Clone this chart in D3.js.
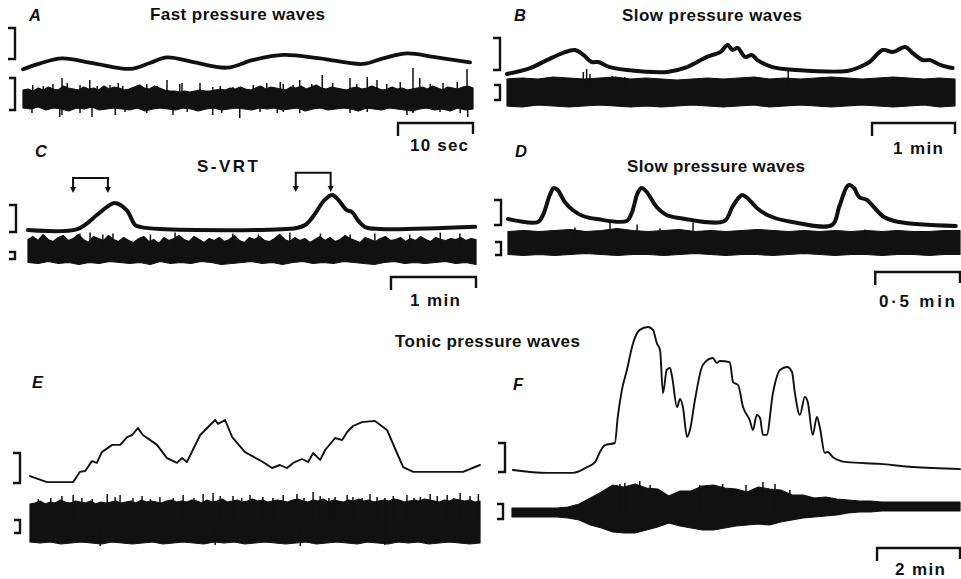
<!DOCTYPE html>
<html><head><meta charset="utf-8">
<script src="https://cdnjs.cloudflare.com/ajax/libs/d3/7.8.5/d3.min.js"></script>
<style>body{margin:0;background:#fff}svg{display:block}</style>
</head><body>
<svg id="fig" width="961" height="579"></svg>
<script>
// Pressure traces: time (s or min) and pressure in calibration units (bracket = 10).
// Nerve traces: envelope of the efferent discharge in µV, sampled evenly over the record,
// plus isolated large spikes as [time, amplitude].

// ---- A: fast pressure waves (time in s)
const aTime = [0, 2.3, 5.2, 9.3, 14.3, 16.9, 19.2, 22.7, 27.2, 30.7, 34.7, 39.6, 45.3, 48, 51.2, 54.7, 59.6];
const aPressure = [-3.3, -1.4, 0.2, -1.3, -3.2, -1.3, 0.5, -1.0, -2.8, -0.3, 1.3, 0.2, -1.6, 0.2, 1.8, 0.7, -1.1];
const aNerveUpper = [9,10,8,11,9,12,10,9,13,11,10,9,12,10,11,9,13,10,12,11,9,10,12,14,11,10,13,11,9,8,8,7,8,7,8,9,8,8,9,10,9,11,10,12,10,9,11,13,10,12,11,10,9,12,11,13,10,12,14,11,10,12,11,10,9,11,12,10,11,13,11,9,10,12,10,11,9,10,11,12,10,13,11,9,12,11,10,12,13,11];
const aNerveLower = [-9,-10,-8,-11,-9,-10,-12,-9,-10,-8,-11,-10,-9,-10,-11,-9,-12,-10,-9,-10,-11,-9,-10,-12,-10,-9,-11,-10,-9,-10,-11,-9,-10,-9,-11,-10,-9,-12,-10,-9,-11,-10,-9,-10,-12,-9,-10,-11,-9,-10,-11,-12,-10,-9,-11,-10,-12,-9,-11,-10];
const aSpikes = [[1.3,14],[2.7,13],[4.0,15],[5.2,21],[5.9,16],[7.6,14],[8.9,19],[9.9,13],[11.6,14],[12.7,16],[13.3,13],[15.6,14],[16.5,15],[17.9,13],[19.2,19],[20.9,15],[21.2,16],[23.6,16],[25.3,12],[26.3,13],[28,12],[30.7,14],[32.5,16],[34.3,17],[34.7,15],[36,14],[36.9,19],[38.5,15],[39.9,24],[41.3,16],[43.6,21],[44.5,15],[45.9,22],[47.2,19],[48.5,15],[50.3,17],[52,31],[52.9,21],[54.3,15],[56,16],[57.9,17],[59.2,30],
  [1.2,-14],[4.9,-18],[5.2,-16],[7.6,-14],[9.2,-18],[12.3,-16],[13.6,-13],[16.5,-14],[20,-16],[21.9,-13],[25.3,-16],[26.5,-14],[28.9,-19],[31.6,-13],[33.9,-14],[34.7,-13],[36.9,-14],[43.6,-14],[45.9,-13],[51.2,-16],[52,-14],[55.6,-13],[58.3,-14],[59.3,-18]];

// ---- B: slow pressure waves (time in min)
const bTime = [0, 0.28, 0.48, 0.67, 0.82, 0.92, 1.02, 1.10, 1.24, 1.45, 1.93, 2.17, 2.41, 2.57, 2.66, 2.72, 2.78, 2.87, 2.95, 3.02, 3.20, 3.49, 4.10, 4.25, 4.37, 4.53, 4.65, 4.80, 4.89, 5.01, 5.10, 5.22, 5.37];
const bPressure = [-1.25, 0.6, 3.1, 5.3, 6.25, 4.7, 2.5, 2.5, 0.9, 0, -0.6, 0.9, 4.1, 5.6, 7.8, 6.25, 6.9, 4.1, 4.7, 3.1, 0.9, 0, -0.3, 0.9, 2.5, 6.25, 5.6, 7.2, 5.3, 3.1, 3.1, 1.6, 0.6];
const bNerveUpper = [13,14,13,15,14,13,14,15,13,14,13,12,13,14,13,14,15,13,14,13,14,15,14,13,14,15,14,13,14,13];
const bNerveLower = [-14,-15,-13,-14,-15,-14,-13,-14,-15,-14,-15,-14,-13,-14,-15,-14,-13,-15,-14,-13,-14,-15,-14,-13,-14,-15,-14,-13,-15,-14];
const bSpikes = [[0.92,20],[0.96,23],[1.0,18],[1.27,16],[1.42,15],[3.39,22]];

// ---- C: S-VRT (time in min)
const cTime = [0, 0.58, 0.81, 0.93, 1.02, 1.16, 1.26, 1.32, 1.55, 3.16, 3.26, 3.35, 3.49, 3.58, 3.65, 3.75, 3.81, 3.88, 3.96, 4.14, 5.26];
const cPressure = [0.7, 1.1, 6.3, 9.3, 10.7, 8.1, 2.6, 1.9, 1.1, 1.5, 2.6, 5.6, 11.9, 13.7, 11.9, 8.1, 7.4, 4.4, 1.9, 1.1, 1.9];
const cNerveUpper = [12,15,11,17,12,10,14,16,11,13,17,12,9,15,13,11,16,12,10,14,11,9,13,15,10,12,8,14,11,13,16,12,10,15,12,9,13,11,14,10,12,16,11,9,14,12,15,11,10,13,17,12,10,14,11,13,9,12,15,11,14,10,12,16,13,11,9,14,12,10,13,15,11,12,14,10,13,11,15,12,10,14,12,11,13,12,14,11,13,12];
const cNerveLower = [-11,-12,-10,-12,-11,-13,-11,-12,-10,-11,-12,-11,-13,-10,-12,-11,-12,-10,-11,-13,-12,-11,-10,-12,-11,-13,-11,-10,-12,-11,-12,-10,-11,-12,-13,-11,-10,-12,-11,-12,-11,-10,-12,-11,-13];
const cSpikes = [[0.61,18],[0.73,19],[0.88,17],[1.0,18],[1.44,17],[1.73,19],[2.41,18],[2.71,17],[3.08,19],[3.44,18],[3.79,17],[4.08,18],[4.49,17],[4.85,19],[5.08,18]];
// stimulus markers: [start, end, bar level, arrow tip] (min, pressure units)
const cArrows = [[0.53, 0.94, 20, 14.4], [3.15, 3.56, 21.9, 14.8]];

// ---- D: slow pressure waves (time in s)
const dTime = [0, 10.6, 12.4, 14.8, 16.2, 17.6, 20.1, 22.9, 26.5, 31.4, 42.0, 43.8, 45.9, 47.3, 49.1, 52.6, 56.1, 60.7, 76.6, 79.4, 81.9, 83.0, 84.7, 89.0, 93.5, 100.6, 114.7, 117.2, 119.7, 120.7, 122.5, 124.3, 127.1, 129.5, 133.1, 138.4, 158.5];
const dPressure = [2.4, 1.2, 4, 12, 14.8, 14, 9.2, 6, 3.6, 2.4, 1.6, 4.8, 12.8, 14.8, 13.2, 7.2, 4, 2.8, 1.6, 7.2, 11.2, 12, 10.8, 6, 3.2, 1.2, 0, 7.2, 14.8, 16, 14.8, 11.2, 10, 7.2, 3.2, 1.2, -0.4];
const dNerveUpper = [11,12,11,12,13,11,12,14,12,11,12,13,11,12,11,12,13,12,11,12,11,12,11,12,11,12,11,11,12,12];
const dNerveLower = [-12,-13,-12,-13,-12,-11,-12,-13,-12,-12,-13,-12,-11,-12,-13,-12,-12,-13,-12,-11,-12,-13,-12,-12,-13,-12,-12,-13,-12,-12];
const dSpikes = [[23.7,15],[36.1,21],[45.7,18],[53.8,14],[65.5,20],[126.4,13]];

// ---- E: tonic pressure waves (time in min)
const eTime = [0, 0.41, 1.04, 1.20, 1.33, 1.49, 1.61, 1.73, 1.98, 2.17, 2.34, 2.46, 2.60, 2.72, 3.06, 3.30, 3.54, 3.66, 3.78, 4.10, 4.46, 4.53, 4.70, 4.87, 5.18, 5.61, 5.83, 6.02, 6.19, 6.34, 6.55, 6.70, 6.82, 6.99, 7.11, 7.35, 7.52, 7.64, 7.78, 8.00, 8.31, 8.60, 8.84, 8.99, 9.23, 10.43, 10.84];
const ePressure = [2.3, 0.3, 0.3, 3.7, 4, 7.3, 6.7, 10.3, 12.7, 12.7, 15.3, 16, 18.3, 16, 12.7, 8.3, 6.7, 8.3, 7, 16, 21, 19.7, 21, 15.3, 10.3, 7, 5, 6, 5, 6.7, 8, 7, 10, 7.7, 11, 15, 14.3, 17, 19, 20.3, 20.7, 17.7, 10, 5.3, 3.7, 3.7, 6];
const eNerveUpper = [18,19,21,18,20,19,22,20,19,21,20,19,21,18,20,19,20,21,19,20,21,19,22,20,21,20,19,21,22,20,21,20,22,21,19,22,20,21,23,20,21,22,20,21,23,21,22,20,21,22,21,20,22,23,21,20,22,21,23,20,22,21,20,22,21,23,21,22,20,21,22,21,23,22,20,21,22,21,23,22,21,20,22,21,23,22,21,22,20,21];
const eNerveLower = [-20,-21,-20,-22,-21,-20,-21,-22,-20,-21,-22,-21,-20,-22,-21,-20,-21,-22,-20,-21,-20,-22,-21,-20,-21,-22,-21,-20,-22,-21,-20,-21,-22,-20,-21,-22,-20,-21,-20,-22,-21,-20,-21,-22,-21];
const eSpikes = [[0.2,23],[0.5,24],[0.77,26],[1.04,27],[1.25,24],[1.5,23],[1.86,28],[2.05,25],[2.17,27],[2.48,24],[2.70,26],[2.9,23],[3.13,25],[3.45,24],[3.69,27],[3.95,24],[4.17,28],[4.41,29],[4.58,26],[4.89,26],[5.1,24],[5.30,27],[5.61,25],[5.85,24],[6.10,27],[6.43,28],[6.6,24],[6.82,30],[6.99,26],[7.2,24],[7.35,25],[7.64,27],[7.78,25],[8.0,24],[8.19,28],[8.36,25],[8.55,24],[8.75,26],[9.08,27],[9.25,24],[9.40,25],[9.64,28],[9.81,26],[10.05,27],[10.2,24],[10.36,29],[10.60,26],[10.80,28],
  [1.69,-24],[4.46,-23],[6.51,-24],[8.55,-23]];

// ---- F: tonic pressure waves (time in min)
const fTime = [0.02, 0.84, 1.47, 1.81, 2.00, 2.12, 2.24, 2.48, 2.55, 2.65, 2.77, 2.92, 3.08, 3.28, 3.40, 3.49, 3.57, 3.64, 3.73, 3.81, 3.86, 3.98, 4.05, 4.12, 4.22, 4.29, 4.41, 4.60, 4.84, 4.94, 5.01, 5.25, 5.33, 5.45, 5.57, 5.73, 5.81, 5.90, 5.98, 6.05, 6.14, 6.29, 6.46, 6.63, 6.75, 6.82, 6.94, 7.06, 7.13, 7.25, 7.35, 7.42, 7.54, 7.61, 7.73, 8.07, 8.87, 9.66, 10.80];
const fPressure = [0.7, -0.3, -0.3, 1.7, 3.4, 6.9, 9.3, 10, 19, 28.3, 35.2, 44.5, 49, 50, 49, 44.5, 42, 27.2, 35.2, 35.9, 32.8, 22.4, 25.2, 22.4, 12.1, 14.5, 24.8, 36.9, 39.3, 37.6, 38.3, 37.9, 31, 30, 22.4, 17.9, 14.5, 19.7, 18.6, 12.8, 12.8, 27.2, 35.2, 36.2, 34.5, 27.2, 19.7, 25.9, 24.1, 12.8, 19, 15.5, 6.6, 6.9, 5.2, 3.4, 2.8, 1.7, 1];
const fNerveUpper = [4,4,4,4,4,5,8,14,20,27,25,28,24,23,16,21,21,26,27,24,23,20,25,23,22,17,17,14,15,13,12,11,11,10,10,10,10,10,10,10,10];
const fNerveLower = [-5,-5,-5,-5,-5,-6,-8,-13,-16,-20,-21,-21,-18,-15,-11,-14,-16,-18,-18,-16,-14,-13,-12,-13,-10,-8,-6,-5,-4,-3,-1,0,0,1,1,1,1,1,1,1,1];
const fSpikes = [[2.6,28],[2.72,29],[3.08,31],[3.33,27],[4.53,27],[5.08,28],[5.64,27],[6.05,30],[6.34,28],[6.70,22]];

// ---- text
const panelLetters = ["A", "B", "C", "D", "E", "F"];
const panelTitles = ["Fast pressure waves", "Slow pressure waves", "S-VRT", "Slow pressure waves", "Tonic pressure waves"];
const timeBarLabels = ["10 sec", "1 min", "1 min", "0\u00b75 min", "2 min"];
const timeBarLengths = [10, 1, 1, 30, 2];

// ---- layout of each panel
const FONT = "'Liberation Sans', Arial, Helvetica, sans-serif";
const panels = [
  { time: aTime, pressure: aPressure, up: aNerveUpper, lo: aNerveLower, spikes: aSpikes, T: 60, xr: [23, 473],
    pr: [59, 28], pw: 3.8, curve: d3.curveCatmullRom.alpha(0.5), pbx: 15, nc: 99, ncal: 32, nlo: -11, nbx: 15,
    bar: 0, barY: 123, lab: [439, 151, 58] },
  { time: bTime, pressure: bPressure, up: bNerveUpper, lo: bNerveLower, spikes: bSpikes, T: 5.4, xr: [507, 955],
    pr: [70, 38], pw: 4, curve: d3.curveCatmullRom.alpha(0.5), pbx: 500, nc: 92, ncal: 15, nlo: -8, nbx: 500,
    bar: 1, barY: 123, lab: [918, 154, 50] },
  { time: cTime, pressure: cPressure, up: cNerveUpper, lo: cNerveLower, spikes: cSpikes, T: 5.27, xr: [28, 476],
    pr: [232, 205], pw: 4, curve: d3.curveCatmullRom.alpha(0.5), pbx: 16, nc: 251.5, ncal: 7, nlo: -7.5, nbx: 15,
    bar: 2, barY: 277, lab: [435, 306, 50], arrows: cArrows },
  { time: dTime, pressure: dPressure, up: dNerveUpper, lo: dNerveLower, spikes: dSpikes, T: 160, xr: [508, 960],
    pr: [225, 200], pw: 4, curve: d3.curveCatmullRom.alpha(0.5), pbx: 501, nc: 242.5, ncal: 13, nlo: -12.5, nbx: 501,
    bar: 3, barY: 272, lab: [917, 307, 76] },
  { time: eTime, pressure: ePressure, up: eNerveUpper, lo: eNerveLower, spikes: eSpikes, T: 10.84, xr: [30, 480],
    pr: [483, 453], pw: 1.9, curve: d3.curveLinear, pbx: 20, nc: 522, ncal: 13, nlo: -11, nbx: 20, bar: -1 },
  { time: fTime, pressure: fPressure, up: fNerveUpper, lo: fNerveLower, spikes: fSpikes, T: 10.8, xr: [512, 960],
    pr: [472, 443], pw: 1.9, curve: d3.curveMonotoneX, pbx: 505, nc: 512, ncal: 15, nlo: -7, nbx: 503,
    bar: 4, barY: 548, lab: [920, 575, 50] }
];

const svg = d3.select("#fig");
svg.append("rect").attr("width", 961).attr("height", 579).attr("fill", "#fff");

// calibration bracket "]" from y0 (bottom) to y1 (top), spine at x
function bracket(g, x, y0, y1, arm) {
  g.append("path")
    .attr("d", `M${x - arm},${y1}H${x}V${y0}H${x - arm}`)
    .attr("fill", "none").attr("stroke", "#111").attr("stroke-width", 2.4);
}

panels.forEach(p => {
  const g = svg.append("g");
  const x = d3.scaleLinear().domain([0, p.T]).range(p.xr);
  const y = d3.scaleLinear().domain([0, 10]).range(p.pr);
  const yn = d3.scaleLinear().domain([0, p.ncal]).range([p.nc, p.nc - p.ncal]);

  // nerve discharge envelope
  const xu = d3.scaleLinear().domain([0, p.up.length - 1]).range([0, p.T]);
  const xl = d3.scaleLinear().domain([0, p.lo.length - 1]).range([0, p.T]);
  const poly = p.up.map((v, i) => [x(xu(i)), yn(v)])
    .concat(p.lo.map((v, i) => [x(xl(i)), yn(v)]).reverse());
  g.append("path").attr("d", d3.line().curve(d3.curveLinearClosed)(poly))
    .attr("fill", "#111").attr("stroke", "#111").attr("stroke-width", 1.2).attr("stroke-linejoin", "round");
  g.selectAll(null).data(p.spikes).join("line")
    .attr("x1", d => x(d[0])).attr("x2", d => x(d[0]))
    .attr("y1", yn(0)).attr("y2", d => yn(d[1]))
    .attr("stroke", "#111").attr("stroke-width", 1.5);

  // pressure trace
  const line = d3.line().x((d, i) => x(p.time[i])).y(d => y(d)).curve(p.curve);
  g.append("path").attr("d", line(p.pressure))
    .attr("fill", "none").attr("stroke", "#111").attr("stroke-width", p.pw)
    .attr("stroke-linejoin", "round").attr("stroke-linecap", "round");

  // calibration brackets
  bracket(g, p.pbx, y(0), y(10), 7);
  bracket(g, p.nbx, yn(p.nlo), yn(p.nlo + p.ncal), 6);

  // stimulus markers
  if (p.arrows) {
    p.arrows.forEach(a => {
      g.append("path")
        .attr("d", `M${x(a[0])},${y(a[3]) - 5}V${y(a[2])}H${x(a[1])}V${y(a[3]) - 5}`)
        .attr("fill", "none").attr("stroke", "#111").attr("stroke-width", 2);
      [a[0], a[1]].forEach(t => {
        const tx = x(t), ty = y(a[3]);
        g.append("path").attr("d", `M${tx - 3},${ty - 6}L${tx + 3},${ty - 6}L${tx},${ty}Z`).attr("fill", "#111");
      });
    });
  }

  // time bar
  if (p.bar >= 0) {
    const len = timeBarLengths[p.bar];
    const bx0 = x(p.T - len), bx1 = x(p.T);
    g.append("path")
      .attr("d", `M${bx0},${p.barY + 13}V${p.barY}H${bx1}V${p.barY + 11}`)
      .attr("fill", "none").attr("stroke", "#111").attr("stroke-width", 2.4);
    g.append("text").attr("x", p.lab[0]).attr("y", p.lab[1])
      .attr("text-anchor", "middle").attr("font-family", FONT).attr("font-size", 17)
      .attr("font-weight", "bold").attr("fill", "#111")
      .attr("textLength", p.lab[2]).attr("lengthAdjust", "spacing")
      .text(timeBarLabels[p.bar]);
  }
});

// panel letters
const letterPos = [[29, 21], [514, 21], [35, 157], [515, 157], [32, 388], [513, 390]];
svg.selectAll(null).data(panelLetters).join("text")
  .attr("x", (d, i) => letterPos[i][0]).attr("y", (d, i) => letterPos[i][1])
  .attr("font-family", FONT).attr("font-size", 16.5).attr("font-style", "italic").attr("font-weight", "bold")
  .attr("fill", "#111").text(d => d);

// panel titles: [centre x, baseline, width]
const titlePos = [[237.5, 20, 175], [712, 21, 180], [227.5, 172, 61], [716, 172, 178], [487.5, 347, 185]];
svg.selectAll(null).data(panelTitles).join("text")
  .attr("x", (d, i) => titlePos[i][0]).attr("y", (d, i) => titlePos[i][1])
  .attr("text-anchor", "middle").attr("font-family", FONT).attr("font-size", 17)
  .attr("font-weight", "bold").attr("fill", "#111")
  .attr("textLength", (d, i) => titlePos[i][2]).attr("lengthAdjust", "spacing")
  .text(d => d);
</script>
</body></html>
